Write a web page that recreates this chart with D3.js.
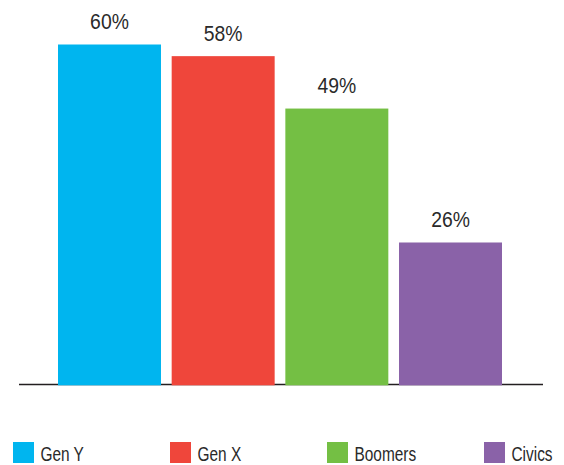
<!DOCTYPE html>
<html><head><meta charset="utf-8">
<script src="https://cdn.jsdelivr.net/npm/d3@7"></script>
<style>
html,body{margin:0;padding:0;background:#fff;}
svg{display:block;}
text{font-family:"Liberation Sans Narrow","Liberation Sans",Arial,sans-serif;fill:#2a2a2a;}
</style></head>
<body>
<svg id="chart" width="564" height="465"></svg>
<script>
const categories = ["Gen Y", "Gen X", "Boomers", "Civics"];
const values = [60, 58, 49, 26];
const valueLabels = ["60%", "58%", "49%", "26%"];
const colors = ["#00b5ef", "#ef463b", "#74bf44", "#8a62a8"];

const svg = d3.select("#chart");
const baseY = 384;

const x = d3.scaleBand().domain(categories).range([58, 502]).paddingInner(0.094).paddingOuter(0);
const y = d3.scaleLinear().domain([1.7, 60]).range([baseY, 44.5]);

// axis baseline
svg.append("line")
  .attr("x1", 19).attr("x2", 543)
  .attr("y1", baseY + 0.5).attr("y2", baseY + 0.5)
  .attr("stroke", "#231f20").attr("stroke-width", 1.6);

svg.selectAll("rect.bar").data(categories).enter().append("rect")
  .attr("class", "bar")
  .attr("x", d => x(d))
  .attr("width", x.bandwidth())
  .attr("y", (d, i) => y(values[i]))
  .attr("height", (d, i) => baseY + 1.3 - y(values[i]))
  .attr("fill", (d, i) => colors[i]);

svg.selectAll("text.val").data(categories).enter().append("text")
  .attr("class", "val")
  .attr("transform", (d, i) => `translate(${x(d) + x.bandwidth() / 2},${y(values[i]) - 15.5}) scale(0.88,1)`)
  .attr("text-anchor", "middle")
  .attr("font-size", 22)
  .text((d, i) => valueLabels[i]);

// legend
const lx = d3.scalePoint().domain(categories).range([13, 484]);
const lg = svg.selectAll("g.leg").data(categories).enter().append("g")
  .attr("class", "leg")
  .attr("transform", d => `translate(${lx(d)},442)`);
lg.append("rect").attr("width", 21).attr("height", 21)
  .attr("fill", (d, i) => colors[i]);
lg.append("text")
  .attr("transform", "translate(27.5,19) scale(0.79,1)")
  .attr("font-size", 19.5)
  .text(d => d);
</script>
</body></html>
